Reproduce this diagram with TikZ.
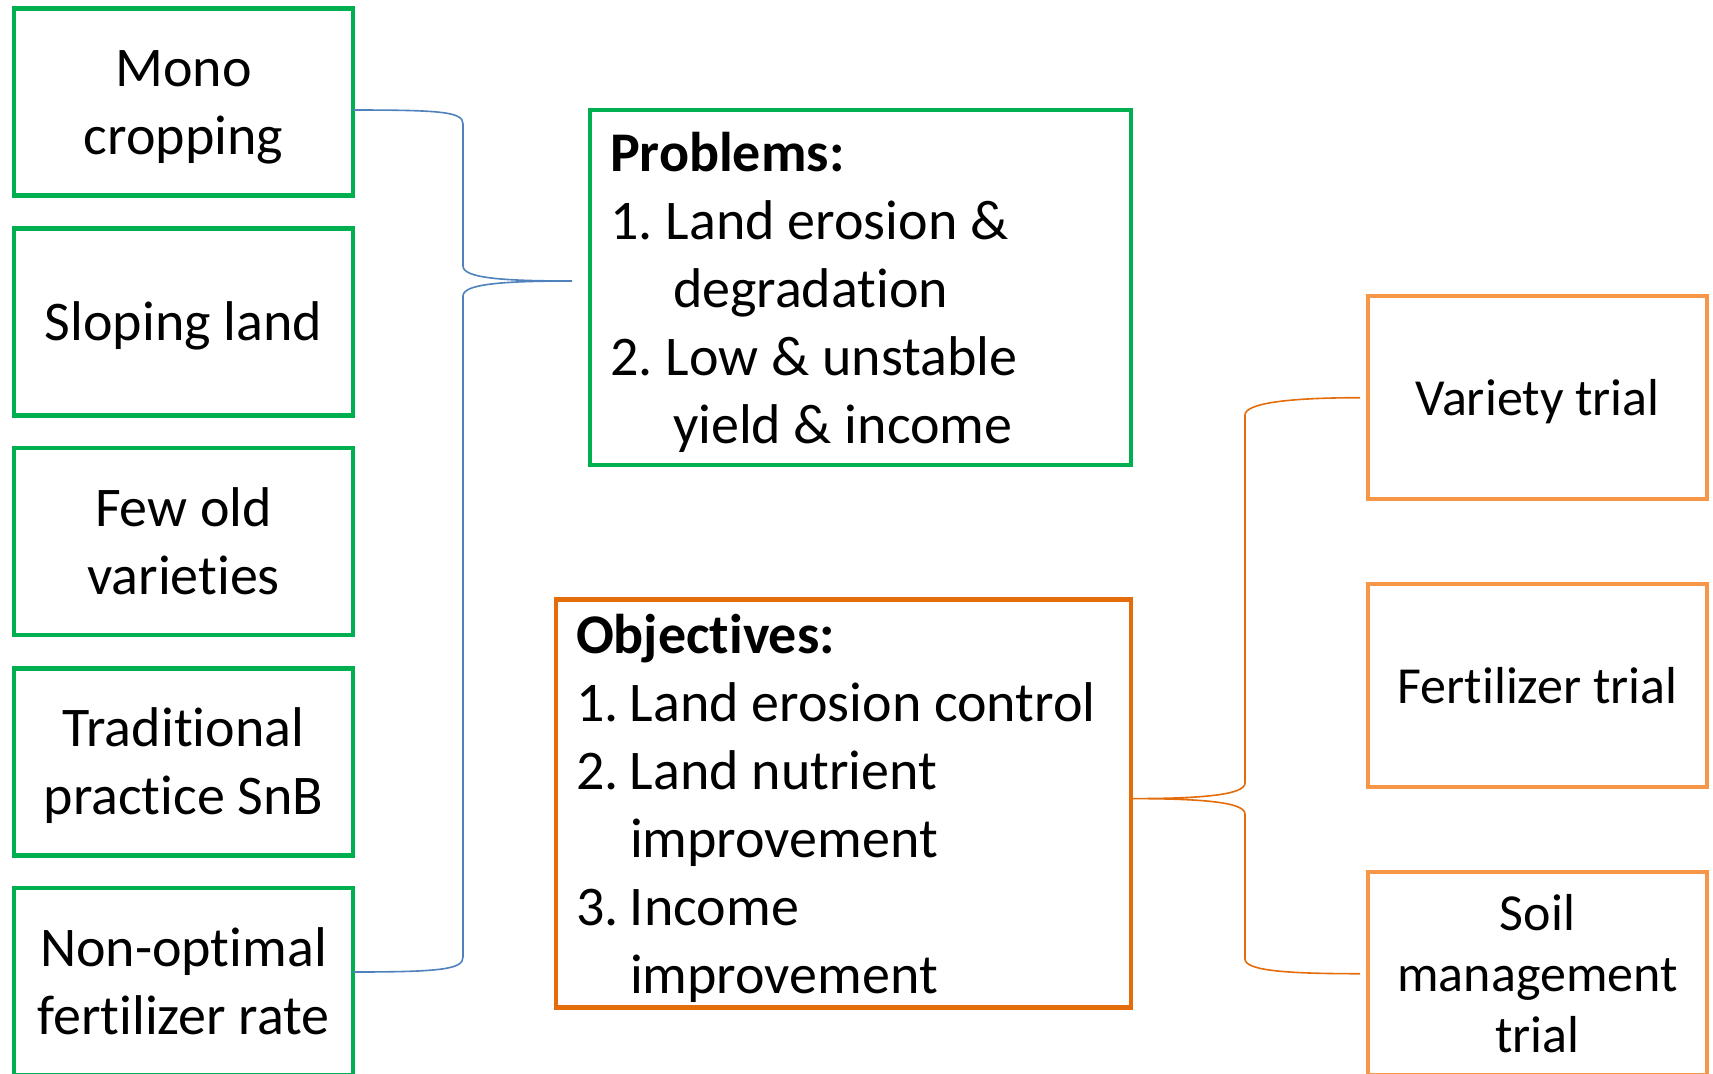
\documentclass[tikz,border=0pt]{standalone}
\usepackage{fontspec}
\setmainfont{Carlito}[Ligatures=NoCommon]
\usetikzlibrary{positioning}
\definecolor{probgreen}{RGB}{0,176,80}
\definecolor{objorange}{RGB}{228,108,10}
\definecolor{trialorange}{RGB}{247,150,70}
\definecolor{bracblue}{RGB}{79,129,189}
\newcommand{\tstrut}{\rule{0pt}{26pt}}
\newcommand{\bstrut}{\rule[-7.4pt]{0pt}{7.4pt}}

\begin{document}
\begin{tikzpicture}[x=0.5pt, y=-0.5pt,
    cause/.style={draw=probgreen, line width=2.2pt, minimum width=169.5pt, minimum height=93.5pt,
      align=center, inner sep=0pt, outer sep=0pt, font=\fontsize{28}{34}\selectfont},
    trial/.style={draw=trialorange, line width=2.2pt, minimum width=169.5pt, minimum height=101.5pt,
      align=center, inner sep=0pt, outer sep=0pt, font=\fontsize{26}{30.5}\selectfont},
    listbox/.style={line width=2.2pt, align=left, inner xsep=10pt, inner ysep=0pt, outer sep=0pt,
      font=\fontsize{28}{34}\selectfont},
    brace/.style={line width=0.8pt}]
  \path[use as bounding box, clip] (0,0) rectangle (1713,1073);

  % causes on the left
  \foreach \n/\y/\t in {mono/102/{Mono\\cropping}, slope/322/{Sloping land},
                        oldvar/541.5/{Few old\\varieties}, tradit/762/{Traditional\\practice SnB},
                        nonopt/981.5/{Non-optimal\\fertilizer rate}}{
    \node[cause] (\n) at (183.5,\y) {\tstrut\t\bstrut};
  }

  % problems and objectives
  \node[listbox, draw=probgreen, minimum width=270.5pt, minimum height=177.5pt, text width=250.5pt]
    (prob) at (860.5,287.7) {\spaceskip=0pt \xspaceskip=0pt
    \raisebox{-3.25pt}[\height][\depth]{\begin{tabular}{@{}p{28pt}@{}l@{}}
      \multicolumn{2}{@{}l@{}}{\textbf{Problems:}}\\
      1. & Land erosion \&\\
         & \hspace{3.5pt}degradation\\
      2. & Low \& unstable\\
         & \hspace{3.5pt}yield \& income
    \end{tabular}}};
  \node[listbox, draw=objorange, minimum width=287.5pt, minimum height=201.5pt, text width=267.5pt]
    (obj) at (843.5,803.6) {\spaceskip=0pt \xspaceskip=0pt
    \raisebox{-3.25pt}[\height][\depth]{\begin{tabular}{@{}p{27pt}@{}l@{}}
      \multicolumn{2}{@{}l@{}}{\textbf{Objectives:}}\\
      1. & Land erosion control\\
      2. & Land nutrient\\
         & improvement\\
      3. & Income\\
         & improvement
    \end{tabular}}};

  % trials on the right
  \node[trial] (variety) at (1537.5,397.7) {\raisebox{-2.2pt}[\height][\depth]{Variety trial}};
  \node[trial, below=42.5pt of variety] (fert) {Fertilizer trial};
  \node[trial, below=42.5pt of fert] (soilmgt) {Soil\\management\\trial};

  % braces
  \coordinate (probtip) at (572,281);
  \coordinate (objtip) at ([yshift=2.5pt]obj.east);
  \draw[brace, draw=bracblue] ([yshift=-4pt]mono.east) .. controls +(90,0) and +(0,-12) .. (463,124)
    -- (463,266) .. controls +(0,12) and +(-70,0) .. (probtip)
    .. controls +(-70,0) and +(0,-12) .. (463,296)
    -- (463,957) .. controls +(0,12) and +(90,0) .. ([yshift=4.75pt]nonopt.east);
  \draw[brace, draw=objorange] ([xshift=-4pt]variety.west) .. controls +(-70,0) and +(0,-12) .. (1245,415)
    -- (1245,783) .. controls +(0,12) and +(70,0) .. (objtip)
    .. controls +(70,0) and +(0,-12) .. (1245,814)
    -- (1245,959) .. controls +(0,12) and +(-70,0) .. ([xshift=-4pt]soilmgt.west);
\end{tikzpicture}
\end{document}
